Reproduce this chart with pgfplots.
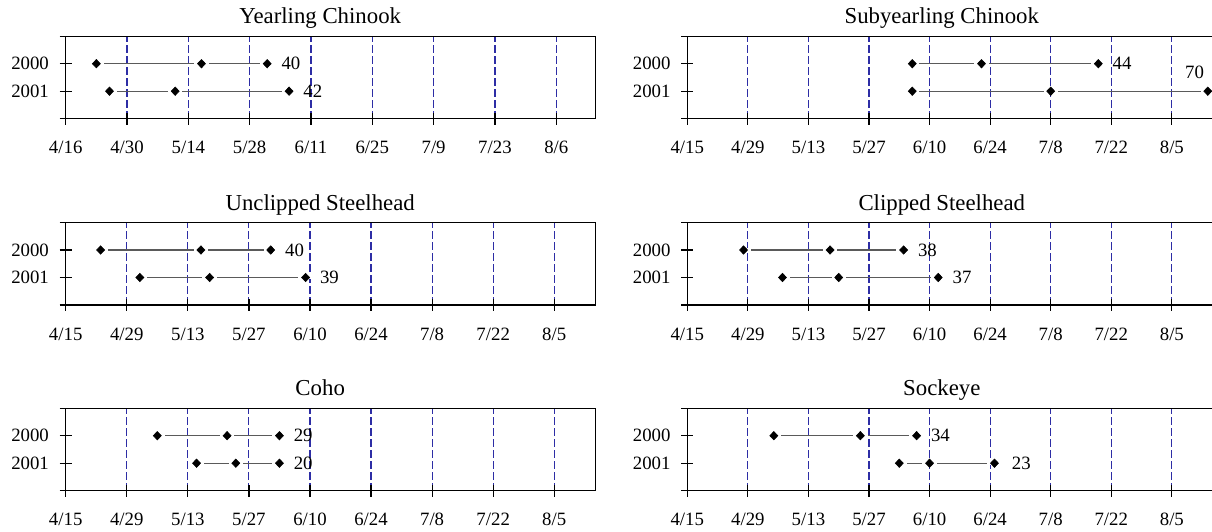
\documentclass[border=0pt]{standalone}
\usepackage{fontspec}
\setmainfont{Liberation Serif}
\usepackage{pgfplots}
\pgfplotsset{compat=1.18}
\definecolor{gridc}{RGB}{45,45,165}
\definecolor{linec}{RGB}{90,90,90}
\newcommand{\tickfont}{\fontsize{9.4}{11}\selectfont}
\newcommand{\titlefont}{\fontsize{11.4}{13}\selectfont}
\pgfdeclareplotmark{hdiamond}{%
  \pgfsetstrokecolor{white}\pgfsetlinewidth{2pt}%
  \pgfpathmoveto{\pgfqpoint{-3.6pt}{0pt}}\pgfpathlineto{\pgfqpoint{3.6pt}{0pt}}\pgfusepathqstroke
  \pgfsetfillcolor{black}\pgfsetstrokecolor{black}\pgfsetlinewidth{0.3pt}%
  \pgfpathmoveto{\pgfqpoint{0pt}{2.1pt}}\pgfpathlineto{\pgfqpoint{2pt}{0pt}}%
  \pgfpathlineto{\pgfqpoint{0pt}{-2.1pt}}\pgfpathlineto{\pgfqpoint{-2pt}{0pt}}\pgfpathclose
  \pgfusepathqfillstroke}
\pgfplotsset{
  panel/.style={
    scale only axis, width=265pt, height=41.25pt,
    ymin=0, ymax=3,
    ytick={0,1,2,3}, yticklabels={,2001,2000,},
    xtick pos=left, ytick pos=left,
    tick align=center, major tick length=6pt,
    tick style={black, line width=0.6pt},
    axis line style={line width=0.6pt},
    xmajorgrids, grid style={gridc, line width=0.55pt, dash pattern=on 4pt off 1.5pt},
    ticklabel style={font=\tickfont, inner sep=0pt},
    xticklabel style={anchor=north, yshift=-8.15pt},
    yticklabel style={anchor=east, xshift=-5.2pt},
    title style={font=\titlefont, anchor=base, at={(0.5,1)}, yshift=0.2pt, xshift=-5.25pt, inner sep=0pt},
    clip=false, unbounded coords=jump,
  },
  std/.style={xmin=0, xmax=121.5, xtick={0,14,...,112},
    xticklabels={4/15,4/29,5/13,5/27,6/10,6/24,7/8,7/22,8/5}},
  series/.style={linec, line width=0.65pt, mark=hdiamond},
  lbl/.style={draw=none, point meta=explicit symbolic, nodes near coords,
    nodes near coords style={anchor=west, inner sep=0pt, xshift=7pt, font=\tickfont, text=black}},
}
\begin{document}
\begin{tikzpicture}
\useasboundingbox (0,0) rectangle (606pt,265.5pt);
\clip (0,0) rectangle (606pt,265.5pt);
% Row 1 left
\begin{axis}[panel, at={(32.85pt,206.15pt)}, anchor=south west,
  xmin=1, xmax=122, xtick={1,15,29,43,57,71,85,99,113},
  xticklabels={4/16,4/30,5/14,5/28,6/11,6/25,7/9,7/23,8/6},
  title={Yearling Chinook}]
\addplot[series] coordinates {(8,2) (32,2) (47,2) (nan,nan) (11,1) (26,1) (52,1)};
\addplot[lbl] coordinates {(47,2) [40] (52,1) [42]};
\end{axis}
% Row 1 right
\begin{axis}[panel, std, at={(343.65pt,206.15pt)}, anchor=south west, xmax=122.5,
  title={Subyearling Chinook}]
\addplot[series] coordinates {(52,2) (68,2) (95,2) (nan,nan) (52,1) (84,1) (120.3,1)};
\addplot[lbl] coordinates {(95,2) [44]};
\addplot[lbl, nodes near coords style={anchor=south east, xshift=-8.7pt, yshift=6pt}] coordinates {(120.3,1) [70]};
\end{axis}
% Row 2 left
\begin{axis}[panel, std, at={(32.85pt,113pt)}, anchor=south west,
  title={Unclipped Steelhead}]
\addplot[series] coordinates {(8,2) (31,2) (47,2) (nan,nan) (17,1) (33,1) (55,1)};
\addplot[lbl] coordinates {(47,2) [40] (55,1) [39]};
\end{axis}
% Row 2 right
\begin{axis}[panel, std, at={(343.65pt,113pt)}, anchor=south west, xmax=122.5,
  title={Clipped Steelhead}]
\addplot[series] coordinates {(13,2) (33,2) (50,2) (nan,nan) (22,1) (35,1) (58,1)};
\addplot[lbl] coordinates {(50,2) [38] (58,1) [37]};
\end{axis}
% Row 3 left
\begin{axis}[panel, std, at={(32.85pt,20.15pt)}, anchor=south west,
  title={Coho}]
\addplot[series] coordinates {(21,2) (37,2) (49,2) (nan,nan) (30,1) (39,1) (49,1)};
\addplot[lbl] coordinates {(49,2) [29] (49,1) [20]};
\end{axis}
% Row 3 right
\begin{axis}[panel, std, at={(343.65pt,20.15pt)}, anchor=south west, xmax=122.5,
  title={Sockeye}]
\addplot[series] coordinates {(20,2) (40,2) (53,2) (nan,nan) (49,1) (56,1) (71,1)};
\addplot[lbl] coordinates {(53,2) [34]};
\addplot[lbl, nodes near coords style={xshift=1.5pt}] coordinates {(71,1) [23]};
\end{axis}
\end{tikzpicture}
\end{document}
